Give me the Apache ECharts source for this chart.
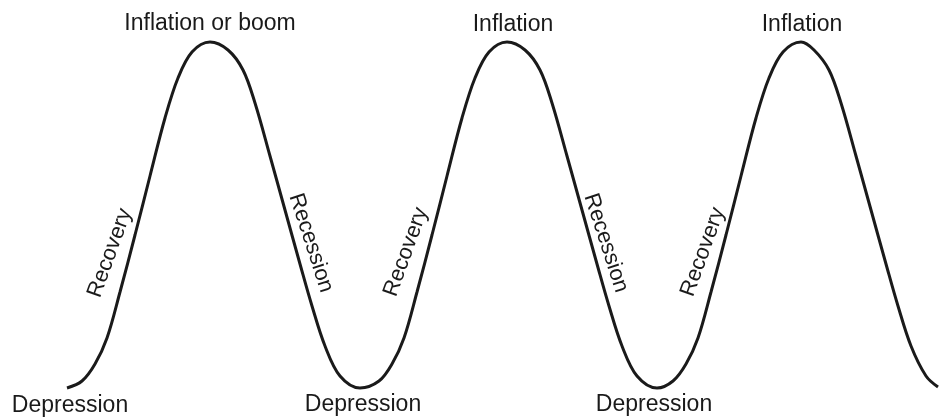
<!DOCTYPE html>
<html>
<head>
<meta charset="utf-8">
<script src="https://cdn.jsdelivr.net/npm/echarts@6/dist/echarts.min.js"></script>
<style>html,body{margin:0;padding:0;background:#fff}#c{width:939px;height:419px}</style>
</head>
<body>
<div id="c"></div>
<script>
const cycleX = [67,82,95,107,120,135,150,165,178,192,210,228,243,255,270,285,300,312,325,340,360,
  379,392,404,417,432,447,462,475,489,507,525,540,552,567,582,597,609,622,637,657,
  673,686,698,711,726,741,756,769,783,801,814,829,841,856,871,886,898,911,926,938];
const cycleY = [388,381,364,338,292,235,176,118,78,52,42,50,70,103,156,210,264,306,346,376,388,
  381,364,338,292,235,176,118,78,52,42,50,70,103,156,210,264,306,346,376,388,
  381,364,338,292,235,176,118,78,52,42,50,70,103,156,210,264,306,346,376,387];
const peakLabels = ['Inflation or boom', 'Inflation', 'Inflation'];
const troughLabels = ['Depression', 'Depression', 'Depression'];
const riseLabel = 'Recovery';
const fallLabel = 'Recession';

const points = cycleX.map((x, i) => [x, cycleY[i]]);
const FONT = '"Liberation Sans", Arial, sans-serif';
const INK = '#1a1a1a';

function txt(text, x, y, size, rot) {
  return {
    type: 'text', x: x, y: y, rotation: rot || 0,
    style: { text: text, fill: INK, font: size + 'px ' + FONT, textAlign: 'center', textVerticalAlign: 'middle' }
  };
}

const graphics = [
  txt(peakLabels[0], 210, 24, 23),
  txt(peakLabels[1], 513, 25, 23),
  txt(peakLabels[2], 802, 25, 23),
  txt(troughLabels[0], 70, 406, 23),
  txt(troughLabels[1], 363, 405, 23),
  txt(troughLabels[2], 654, 405, 23),
  txt(riseLabel, 110, 253, 22, 70 * Math.PI / 180),
  txt(riseLabel, 406, 252, 22, 70 * Math.PI / 180),
  txt(riseLabel, 703, 252, 22, 70 * Math.PI / 180),
  txt(fallLabel, 311, 243, 22, -72 * Math.PI / 180),
  txt(fallLabel, 606, 243, 22, -72 * Math.PI / 180)
];

const chart = echarts.init(document.getElementById('c'));
chart.setOption({
  animation: false,
  backgroundColor: '#ffffff',
  grid: { left: 0, right: 0, top: 0, bottom: 0 },
  xAxis: { type: 'value', min: 0, max: 939, show: false },
  yAxis: { type: 'value', min: 0, max: 419, inverse: true, show: false },
  series: [{
    type: 'line', data: points, symbol: 'none', smooth: 0.35,
    lineStyle: { color: INK, width: 3 }
  }],
  graphic: graphics
});
</script>
</body>
</html>
